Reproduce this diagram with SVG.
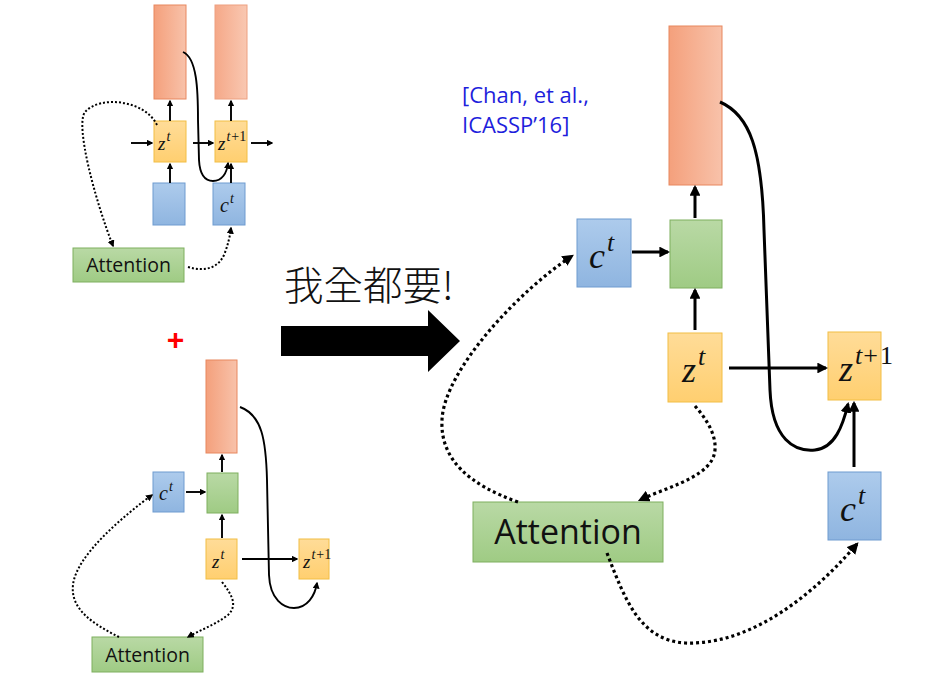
<svg xmlns="http://www.w3.org/2000/svg" width="933" height="697" viewBox="0 0 933 697">
<defs>
  <linearGradient id="gOr" x1="0" y1="0" x2="1" y2="0">
    <stop offset="0" stop-color="#F4A07C"/>
    <stop offset="1" stop-color="#F8C2AA"/>
  </linearGradient>
  <linearGradient id="gOr2" x1="0" y1="0" x2="1" y2="0">
    <stop offset="0" stop-color="#F5A888"/>
    <stop offset="1" stop-color="#F9C8B2"/>
  </linearGradient>
  <linearGradient id="gYe" x1="0" y1="0" x2="0" y2="1">
    <stop offset="0" stop-color="#FFDC98"/>
    <stop offset="1" stop-color="#FFCF70"/>
  </linearGradient>
  <linearGradient id="gBl" x1="0" y1="0" x2="0" y2="1">
    <stop offset="0" stop-color="#ADCBEC"/>
    <stop offset="1" stop-color="#8FB5E0"/>
  </linearGradient>
  <linearGradient id="gGr" x1="0" y1="0" x2="0" y2="1">
    <stop offset="0" stop-color="#B9D9A5"/>
    <stop offset="1" stop-color="#9FCB84"/>
  </linearGradient>
  <marker id="ah" viewBox="0 0 10 10" refX="8" refY="5" markerWidth="3.6" markerHeight="3.6" orient="auto" markerUnits="strokeWidth">
    <path d="M0,0 L10,5 L0,10 z" fill="#000"/>
  </marker>
</defs>
<style>
  .or{fill:url(#gOr);stroke:#E8875F;stroke-width:1}
  .or2{fill:url(#gOr2);stroke:#EDA080;stroke-width:1}
  .ye{fill:url(#gYe);stroke:#F2BE45;stroke-width:1}
  .bl{fill:url(#gBl);stroke:#6E9BD0;stroke-width:1}
  .gr{fill:url(#gGr);stroke:#7EAF5F;stroke-width:1}
  .m{font-family:"Liberation Serif","DejaVu Serif",serif;font-style:italic;fill:#111}
  .up{font-style:normal}
  .att{font-family:"Open Sans","Liberation Sans",sans-serif;fill:#111}
  .s{fill:none;stroke:#000;marker-end:url(#ah)}
  .w3{stroke-width:3}
  .w2{stroke-width:1.9}
  .d3{fill:none;stroke:#000;stroke-width:3.2;stroke-dasharray:3 3;marker-end:url(#ah)}
  .d2{fill:none;stroke:#000;stroke-width:2;stroke-dasharray:2 2;marker-end:url(#ah)}
</style>

<!-- Top-left diagram -->
<g id="tl-out1"><rect class="or" x="154" y="5" width="32" height="94"/></g>
<g id="tl-out2"><rect class="or2" x="215" y="5" width="32" height="94"/></g>
<g id="tl-zt"><rect class="ye" x="154" y="121" width="32" height="41"/>
  <text class="m" x="158" y="150" font-size="19">z<tspan font-size="14" dx="1" dy="-9">t</tspan></text></g>
<g id="tl-zt1"><rect class="ye" x="215" y="121" width="32" height="41"/>
  <text class="m" x="218" y="150" font-size="19">z<tspan font-size="14" dx="1" dy="-9">t</tspan><tspan class="up" font-size="14" dx="1">+1</tspan></text></g>
<g id="tl-in"><rect class="bl" x="153" y="183" width="32" height="42"/></g>
<g id="tl-ct"><rect class="bl" x="213" y="183" width="32" height="42"/>
  <text class="m" x="220" y="212" font-size="20">c<tspan font-size="14" dx="1" dy="-9">t</tspan></text></g>
<g id="tl-att"><rect class="gr" x="73" y="248" width="111" height="34"/>
  <text class="att" x="128.5" y="272" font-size="19.5" text-anchor="middle">Attention</text></g>

<!-- Bottom-left diagram -->
<g id="bl-out"><rect class="or" x="206" y="360" width="31" height="93"/></g>
<g id="bl-mix"><rect class="gr" x="207" y="473" width="31" height="40"/></g>
<g id="bl-ct"><rect class="bl" x="153" y="472" width="31" height="40"/>
  <text class="m" x="159" y="500" font-size="20">c<tspan font-size="14" dx="1" dy="-9">t</tspan></text></g>
<g id="bl-zt"><rect class="ye" x="206" y="539" width="31" height="40"/>
  <text class="m" x="212" y="568" font-size="19">z<tspan font-size="14" dx="1" dy="-9">t</tspan></text></g>
<g id="bl-zt1"><rect class="ye" x="299" y="539" width="30" height="40"/>
  <text class="m" x="303" y="568" font-size="19">z<tspan font-size="14" dx="1" dy="-9">t</tspan><tspan class="up" font-size="14" dx="1">+1</tspan></text></g>
<g id="bl-att"><rect class="gr" x="92" y="637" width="111" height="35"/>
  <text class="att" x="147.5" y="662" font-size="19.5" text-anchor="middle">Attention</text></g>

<!-- Right diagram -->
<g id="r-out"><rect class="or" x="669" y="26" width="53" height="159"/></g>
<g id="r-mix"><rect class="gr" x="670" y="220" width="52" height="68"/></g>
<g id="r-ct"><rect class="bl" x="577" y="219" width="54" height="68"/>
  <text class="m" x="589" y="268" font-size="36">c<tspan font-size="26" dx="2" dy="-17">t</tspan></text></g>
<g id="r-zt"><rect class="ye" x="668" y="333" width="54" height="69"/>
  <text class="m" x="682" y="382" font-size="36">z<tspan font-size="26" dx="2" dy="-17">t</tspan></text></g>
<g id="r-zt1"><rect class="ye" x="828" y="332" width="53" height="68"/>
  <text class="m" x="839" y="381" font-size="36">z<tspan font-size="26" dx="2" dy="-17">t</tspan><tspan class="up" font-size="26" dx="1">+</tspan><tspan class="up" font-size="26" dx="2">1</tspan></text></g>
<g id="r-ct2"><rect class="bl" x="828" y="472" width="53" height="68"/>
  <text class="m" x="840" y="521" font-size="36">c<tspan font-size="26" dx="2" dy="-17">t</tspan></text></g>
<g id="r-att"><rect class="gr" x="473" y="502" width="190" height="60"/>
  <text class="att" x="568" y="544" font-size="34" text-anchor="middle">Attention</text></g>

<!-- Texts -->
<g id="labels">
  <text x="462" y="103" font-family="Open Sans,Liberation Sans,sans-serif" font-size="22" fill="#1E1EDC">[Chan, et al.,</text>
  <text x="462" y="133" font-family="Open Sans,Liberation Sans,sans-serif" font-size="22" fill="#1E1EDC">ICASSP’16]</text>
  <text x="284" y="300" font-family="Noto Sans CJK TC,Noto Sans CJK SC,sans-serif" font-weight="300" font-size="39.5" fill="#111">我全都要!</text>
  <text x="175.5" y="350" font-family="Liberation Sans,Arial,sans-serif" font-weight="bold" font-size="30" fill="#FF0000" text-anchor="middle">+</text>
</g>

<!-- Big arrow -->
<g id="big-arrow">
  <path d="M281,326 L428,326 L428,310 L460,341 L428,372 L428,356 L281,356 z" fill="#000"/>
</g>

<g id="connectors">
  <!-- top-left -->
  <path class="s w2" d="M170,121 L170,101"/>
  <path class="s w2" d="M231,121 L231,101"/>
  <path class="s w2" d="M170,183 L170,164"/>
  <path class="s w2" d="M231,183 L231,164"/>
  <path class="s w2" d="M131,143 L152,143"/>
  <path class="s w2" d="M193,143 L213,143"/>
  <path class="s w2" d="M251,143 L272,143"/>
  <path class="s w2" d="M183,52 C197,58 198,90 198,120 L199,160 C200,178 207,181 213,181 C222,181 227,173 228,163"/>
  <path class="d2" d="M157,125 C145,100 100,95 85,112 C75,125 95,200 113,246"/>
  <path class="d2" d="M188,267 C205,272 218,268 224,255 C228,245 230,236 231,228"/>
  <!-- bottom-left -->
  <path class="s w2" d="M186,492 L205,492"/>
  <path class="s w2" d="M222,472 L222,455"/>
  <path class="s w2" d="M222,538 L222,515"/>
  <path class="s w2" d="M242,559 L297,559"/>
  <path class="s w2" d="M240,407 C262,415 266,440 267,480 L269,575 C270,600 284,608 294,608 C307,608 315,596 317,583"/>
  <path class="d2" d="M222,582 C232,595 238,605 228,615 C215,625 200,630 188,637"/>
  <path class="d2" d="M119,637 C95,625 70,610 73,585 C76,555 125,515 152,495"/>
  <!-- right -->
  <path class="s w3" d="M632,252 L668,252"/>
  <path class="s w3" d="M695,218 L695,187"/>
  <path class="s w3" d="M695,330 L695,290"/>
  <path class="s w3" d="M729,368 L826,368"/>
  <path class="s w3" d="M854,467 L854,403"/>
  <path class="s w3" d="M720,102 C750,115 762,150 764,230 L770,390 C772,440 795,452 815,450 C835,448 843,425 848,404"/>
  <path class="d3" d="M695,406 C712,425 720,445 712,460 C700,480 665,488 640,500"/>
  <path class="d3" d="M518,502 C470,485 440,460 442,420 C444,370 520,290 572,256"/>
  <path class="d3" d="M607,553 C625,600 640,640 685,643 C740,645 800,610 857,544"/>
</g>
</svg>
